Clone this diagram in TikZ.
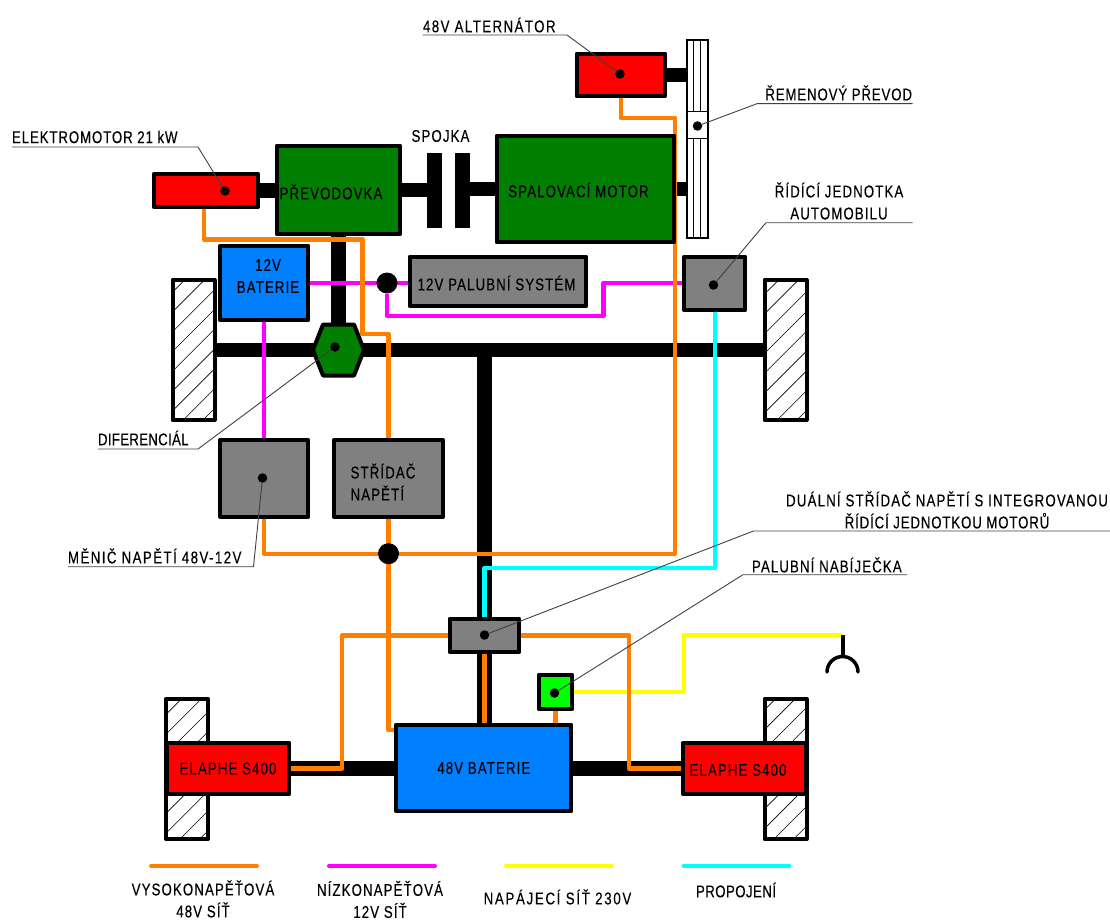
\documentclass[tikz,border=0pt]{standalone}
\usepackage{fontspec}
\setmainfont[FakeStretch=0.78,LetterSpace=6.5,FakeBold=0.25]{Liberation Sans}
\usetikzlibrary{backgrounds,calc,patterns.meta}
\definecolor{oranzova}{HTML}{FF8000}
\definecolor{fialova}{HTML}{FF00FF}
\definecolor{zluta}{HTML}{FFFF00}
\definecolor{azurova}{HTML}{00FFFF}
\definecolor{cervena}{HTML}{FF0000}
\definecolor{zelena}{HTML}{007F00}
\definecolor{svetleZelena}{HTML}{00FF00}
\definecolor{modra}{HTML}{007FFF}
\definecolor{seda}{HTML}{808080}
\definecolor{vodic}{HTML}{404040}
\newcommand{\rozpal}[2]{{\addfontfeatures{LetterSpace=#1}#2}}

\begin{document}
\begin{tikzpicture}[x=1pt,y=-1pt,every node/.style={font=\fontsize{17}{22}\selectfont,inner sep=0pt,outer sep=0pt,align=center},
  blok/.style={draw=black,line width=4pt,line join=round},
  kolo/.style={blok,minimum width=42,minimum height=140.5,pattern={Lines[angle=45,distance=14pt,line width=0.6pt]},pattern color=black},
  hridel/.style={line width=14.5pt},
  vn/.style={oranzova,line width=4.4pt,line join=round},
  nn/.style={fialova,line width=4.4pt,line join=round},
  sit/.style={zluta,line width=4.4pt,line join=round},
  propoj/.style={azurova,line width=4.4pt,line join=round},
  tecka/.style={circle,fill=black,minimum size=9.5},
  uzel/.style={circle,fill=black,minimum size=21},
  odkaz/.style={vodic,line width=0.9pt}]
\useasboundingbox (0,0) rectangle (1110,920);

\node[kolo] (koloA) at (193.5,350) {};
\node[kolo] (koloB) at (785.5,350) {};
\node[kolo] (koloC) at (187,769) {};
\node[kolo] (koloD) at (785.5,769) {};

\node[blok,fill=cervena,minimum width=104,minimum height=33.5] (emotor) at (206,190.5) {};
\node[blok,fill=zelena,minimum width=123.5,minimum height=88.5] (prevodovka) at (338.5,190) {};
\node[blok,fill=zelena,minimum width=177.5,minimum height=106.5] (spalovaci) at (585.5,189) {};
\node[blok,fill=cervena,minimum width=88.5,minimum height=42.5] (alternator) at (621,75) {};
\node[blok,fill=seda,minimum width=61,minimum height=53.5] (ridici) at (714.75,283.5) {};
\node[blok,fill=modra,minimum width=88,minimum height=74.5] (bat12) at (264.25,283) {};
\node[blok,fill=seda,minimum width=176.5,minimum height=49.5] (palubni) at (498,281.5) {};
\node[blok,fill=seda,minimum width=88,minimum height=77] (menic) at (264.25,478.3) {};
\node[blok,fill=seda,minimum width=109,minimum height=77] (stridac) at (388.5,478.3) {};
\node[blok,fill=seda,minimum width=69.5,minimum height=33.5] (dualni) at (484.5,635.5) {};
\node[blok,fill=svetleZelena,minimum width=33.5,minimum height=34.5] (nabijecka) at (555.5,692) {};
\node[blok,fill=modra,minimum width=175,minimum height=86.5] (bat48) at (483.8,768) {48V BATERIE};
\node[blok,fill=cervena,minimum width=122.5,minimum height=51.5] (elapheA) at (228,768.5) {ELAPHE S400};
\node[blok,fill=cervena,minimum width=122.5,minimum height=51.5] (elapheB) at (744.5,768.5) {};

\node[fill=black,minimum width=15,minimum height=75] (spojkaA) at (434.5,190.5) {};
\node[fill=black,minimum width=15,minimum height=75] (spojkaB) at (462.5,190.5) {};
\node[draw=black,line width=1.5pt,minimum width=21,minimum height=198,fill=white] (remen) at (697.25,139) {};
\foreach \i in {-3.5,3.5}{\draw[line width=1.2pt] ([xshift=\i pt]remen.north) -- ([xshift=\i pt]remen.south);}
\node[draw=black,line width=1.5pt,minimum width=21,minimum height=27,fill=white] (remenice) at (697.25,125) {};

\coordinate (diferencial) at (338.5,350);
\coordinate (zasuvka) at (843,635);
\draw[blok,fill=zelena] (323,324.5) -- (354,324.5) -- (364,350) -- (354,375.5) -- (323,375.5) -- (313,350) -- cycle;
\node[uzel] (uzelA) at (387,283) {};
\node[uzel] (uzelB) at (388.5,553.7) {};

\begin{scope}[on background layer]
\draw[hridel] (koloA.east) -- (koloB.west);
\draw[hridel] (dualni |- koloA) -- (dualni |- bat48.north);
\draw[hridel] (prevodovka.south) -- (diferencial);
\draw[hridel] (emotor.east) -- (emotor.east -| prevodovka.west);
\draw[hridel] (prevodovka.east) -- (prevodovka.east -| spojkaA.east);
\draw[hridel] (spojkaB.west |- spalovaci) -- (spalovaci.west);
\draw[hridel] (alternator.east) -- (alternator.east -| remen.west);
\draw[hridel] (spalovaci.east) -- (spalovaci.east -| remen.west);
\draw[hridel] (elapheA.east) -- (elapheA.east -| bat48.west);
\draw[hridel] (elapheB.west) -- (elapheB.west -| bat48.east);
\draw[nn] (bat12.east |- uzelA) -- (palubni.west |- uzelA);
\draw[nn] (bat12.south) -- (menic.north);
\draw[nn] (uzelA) |- (603.5,316) |- (ridici.west |- uzelA);
\draw[sit] (nabijecka.east) -| (684,635) -- (zasuvka);
\draw[propoj] (ridici.south) |- (484.5,568) -- (dualni.north);
\draw[vn] ([xshift=-2pt]emotor.south) |- (362.5,239.5) |- (388.5,334) -- (stridac.north);
\draw[vn] (alternator.south) |- (675,118) |- (uzelB);
\draw[vn] (menic.south) |- (uzelB);
\draw[vn] (stridac.south) |- (bat48.west |- 0,730);
\draw[vn] (dualni.west) -| (342,768.5) -- (elapheA.east);
\draw[vn] (dualni.east) -| (629,768.5) -- (elapheB.west);
\draw[vn] (dualni.south) -- (dualni |- bat48.north);
\draw[vn] (nabijecka.south) -- (nabijecka |- bat48.north);
\end{scope}
\draw[line width=3.5pt] (zasuvka) -- ++(0,20);
\draw[line width=3.5pt,line cap=round] (827,672) arc[start angle=180,end angle=360,radius=15.5];

\node (tPrevodovka) at (331,192) {PŘEVODOVKA};
\node (tSpojka) at (440.5,136) {SPOJKA};
\node (tSpalovaci) at (578.5,190) {SPALOVACÍ MOTOR};
\node (tBat12) at (268,276) {12V\\BATERIE};
\node (tPalubni) at (496.5,283) {12V PALUBNÍ SYSTÉM};
\node[align=left] (tStridac) at (383,482) {STŘÍDAČ\\NAPĚTÍ};
\node (tElapheB) at (738,770) {ELAPHE S400};

\foreach \n/\p in {bEmotor/{225,191},bAlternator/{620,74},bRemen/{697.5,126},bRidici/{713.5,285},bDiferencial/{335,347},bMenic/{262.5,478},bDualni/{484.5,635},bNabijecka/{554.5,693}}{
  \node[tecka] (\n) at (\p) {};
}
\foreach \n/\a/\b/\y in {bEmotor/12/198/147,bAlternator/422.5/567/35,bRemen/912.5/757/103.7,bRidici/912.5/766/222.7,bDiferencial/98/198/449,bMenic/68/253.5/566.7,bDualni/1110/753.5/531,bNabijecka/907/743/574.7}{
  \coordinate (a\n) at (\a,\y);
  \coordinate (c\n) at (\b,\y);
  \draw[odkaz] (a\n) -- (c\n) -- (\n);
}
\node[anchor=west] (tEmotor) at (12,137) {\rozpal{5.2}{ELEKTROMOTOR 21 kW}};
\node[anchor=west] (tAlternator) at (423,25) {\rozpal{8.5}{48V ALTERNÁTOR}};
\node[anchor=east] (tRemen) at (912,93) {\rozpal{5}{ŘEMENOVÝ PŘEVOD}};
\node (tRidici) at (839,201) {ŘÍDÍCÍ JEDNOTKA\\AUTOMOBILU};
\node[anchor=west] (tDiferencial) at (98,438) {\rozpal{1.7}{DIFERENCIÁL}};
\node[anchor=west] (tMenic) at (68,556) {\rozpal{8.5}{MĚNIČ NAPĚTÍ 48V-12V}};
\node (tDualni) at (947,510) {\rozpal{7}{DUÁLNÍ STŘÍDAČ NAPĚTÍ S INTEGROVANOU}\\\rozpal{5}{ŘÍDÍCÍ JEDNOTKOU MOTORŮ}};
\node[anchor=west] (tNabijecka) at (752,565) {PALUBNÍ NABÍJEČKA};

\foreach \c/\n/\x in {oranzova/lgA/151,fialova/lgB/329,zluta/lgC/506,azurova/lgD/683.5}{
  \coordinate (\n) at (\x,866);
  \draw[\c,line width=4pt,line cap=round] (\n) -- ++(106,0);
}
\node (tVn) at (203,899) {VYSOKONAPĚŤOVÁ\\48V SÍŤ};
\node (tNn) at (380,899.5) {NÍZKONAPĚŤOVÁ\\12V SÍŤ};
\node (tSit) at (557.5,897) {\rozpal{10}{NAPÁJECÍ SÍŤ 230V}};
\node (tPropoj) at (736,890) {\rozpal{2.5}{PROPOJENÍ}};
\end{tikzpicture}
\end{document}
